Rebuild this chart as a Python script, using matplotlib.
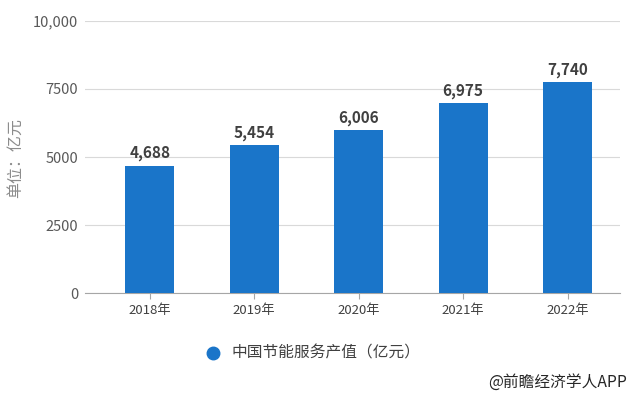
import matplotlib.pyplot as plt

plt.rcParams['font.family'] = ['Noto Sans CJK SC', 'DejaVu Sans']

# Data
years = ['2018年', '2019年', '2020年', '2021年', '2022年']
values = [4688, 5454, 6006, 6975, 7740]
yticks = [0, 2500, 5000, 7500, 10000]
ytick_labels = ['0', '2500', '5000', '7500', '10,000']

fig = plt.figure(figsize=(6.3, 3.94), dpi=100)
ax = fig.add_axes([0.135, 0.256, 0.849, 0.691])

x = range(len(years))
bars = ax.bar(x, values, width=0.47, color='#1a75c9', zorder=3)

for i, v in enumerate(values):
    ax.text(i, v + 150, f'{v:,}', ha='center', va='bottom',
            fontsize=11, fontweight='bold', color='#404040')

ax.set_ylim(0, 10000)
ax.set_xlim(-0.62, 4.5)
ax.set_yticks(yticks)
ax.set_yticklabels(ytick_labels)
ax.set_xticks(list(x))
ax.set_xticklabels(years)

ax.grid(axis='y', color='#d9d9d9', linewidth=0.8, zorder=0)
for s in ['top', 'right', 'left']:
    ax.spines[s].set_visible(False)
ax.spines['bottom'].set_color('#a6a6a6')
ax.tick_params(axis='y', length=0, pad=5, labelsize=10.5, labelcolor='#595959')
ax.tick_params(axis='x', length=4, color='#a6a6a6', labelsize=9.5, labelcolor='#404040')

fig.text(0.025, 0.60, '单位：亿元', rotation=90, ha='center', va='center',
         fontsize=11.5, color='#8c8c8c')

# Legend
fig.lines.append(plt.Line2D([0.338], [0.104], marker='o', markersize=9,
                            color='#1a75c9', transform=fig.transFigure))
fig.text(0.368, 0.104, '中国节能服务产值（亿元）', ha='left', va='center',
         fontsize=11.3, color='#404040')

fig.text(0.995, 0.030, '@前瞻经济学人APP', ha='right', va='center',
         fontsize=11.3, color='#262626')

fig.savefig('out.png', dpi=100)
